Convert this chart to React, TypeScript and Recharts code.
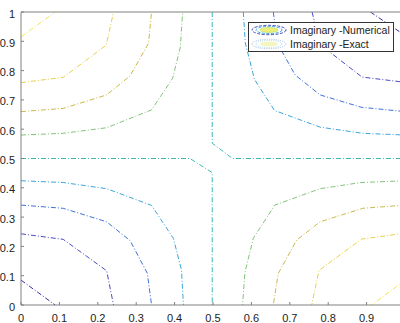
import React from "react";
import { ComposedChart, Line, XAxis, YAxis, Legend } from "recharts";

type P = { x: number; y: number };
const pts = (a: number[][]): P[] => a.map(([x, y]) => ({ x, y }));

// tick labels
const xTicks = [0, 0.1, 0.2, 0.3, 0.4, 0.5, 0.6, 0.7, 0.8, 0.9, 1];
const yTicks = [0, 0.1, 0.2, 0.3, 0.4, 0.5, 0.6, 0.7, 0.8, 0.9, 1];

// contour levels (low -> high)
const levelColors = ["#3e2c9c", "#4b4cc4", "#3f72d6", "#3aa6dc", "#3cb9b2", "#84c47c", "#cdb84a", "#ead04a", "#f2e64a"];

// upper-left quadrant (high values)
const cA_UL = pts([[0, 0.915], [0.089, 1]]);
const cB_UL = pts([[0, 0.759], [0.11, 0.777], [0.222, 0.887], [0.241, 1]]);
const cC_UL = pts([[0, 0.66], [0.11, 0.671], [0.223, 0.717], [0.284, 0.782], [0.332, 0.893], [0.34, 1]]);
const cD_UL = pts([[0, 0.58], [0.11, 0.586], [0.223, 0.605], [0.34, 0.666], [0.395, 0.774], [0.415, 0.88], [0.421, 1]]);
// upper-right quadrant (low values)
const cE_UR = pts([[0.579, 1], [0.584, 0.895], [0.608, 0.77], [0.66, 0.664], [0.779, 0.607], [0.89, 0.586], [1, 0.58]]);
const cF_UR = pts([[0.657, 1], [0.668, 0.893], [0.714, 0.785], [0.779, 0.717], [0.886, 0.675], [1, 0.66]]);
const cG_UR = pts([[0.758, 1], [0.779, 0.889], [0.888, 0.778], [1, 0.76]]);
const cH_UR = pts([[0.91, 1], [1, 0.92]]);
// lower-left quadrant (low values)
const cH_LL = pts([[0, 0.085], [0.089, 0]]);
const cG_LL = pts([[0, 0.243], [0.11, 0.224], [0.223, 0.117], [0.241, 0]]);
const cF_LL = pts([[0, 0.341], [0.11, 0.33], [0.223, 0.284], [0.284, 0.22], [0.329, 0.108], [0.34, 0]]);
const cE_LL = pts([[0, 0.424], [0.11, 0.418], [0.223, 0.397], [0.34, 0.34], [0.397, 0.227], [0.418, 0.119], [0.423, 0]]);
// lower-right quadrant (high values)
const cD_LR = pts([[1, 0.424], [0.885, 0.418], [0.779, 0.397], [0.661, 0.341], [0.605, 0.228], [0.583, 0.11], [0.577, 0]]);
const cC_LR = pts([[1, 0.341], [0.89, 0.33], [0.779, 0.284], [0.718, 0.222], [0.67, 0.108], [0.657, 0]]);
const cB_LR = pts([[1, 0.245], [0.887, 0.225], [0.776, 0.118], [0.757, 0]]);
const cA_LR = pts([[1, 0.085], [0.913, 0]]);
// zero level
const cZ_1 = pts([[0.498, 1], [0.498, 0.552], [0.551, 0.5], [1, 0.5]]);
const cZ_2 = pts([[0, 0.5], [0.44, 0.5], [0.498, 0.452], [0.498, 0]]);

const contours: { data: P[]; level: number }[] = [
  { data: cH_LL, level: 0 }, { data: cH_UR, level: 0 },
  { data: cG_LL, level: 1 }, { data: cG_UR, level: 1 },
  { data: cF_LL, level: 2 }, { data: cF_UR, level: 2 },
  { data: cE_LL, level: 3 }, { data: cE_UR, level: 3 },
  { data: cZ_1, level: 4 }, { data: cZ_2, level: 4 },
  { data: cD_UL, level: 5 }, { data: cD_LR, level: 5 },
  { data: cC_UL, level: 6 }, { data: cC_LR, level: 6 },
  { data: cB_UL, level: 7 }, { data: cB_LR, level: 7 },
  { data: cA_UL, level: 8 }, { data: cA_LR, level: 8 },
];

const legendLabels = ["Imaginary -Numerical", "Imaginary -Exact"];

const FONT = "'Liberation Sans', Arial, Helvetica, sans-serif";
const AX = "#808080";

// layout
const W = 410;
const H = 323;
const M = { top: 11, right: 5, bottom: 17, left: 20 };
const AXIS_THICK = 1;
const PLOT_LEFT = M.left + AXIS_THICK;
const PLOT_TOP = M.top + AXIS_THICK;
const PLOT_BOTTOM = H - M.bottom - AXIS_THICK;

const BottomTick = (props: any) => {
  const { x, payload } = props;
  const y = PLOT_BOTTOM;
  return (
    <g>
      <line x1={x} y1={y} x2={x} y2={y - 3} stroke={AX} />
      {payload.value < 1 && (
        <text x={x} y={y + 17} textAnchor="middle" fontSize={11} fontFamily={FONT} fill="#222">
          {String(payload.value)}
        </text>
      )}
    </g>
  );
};
const TopTick = (props: any) => {
  const { x } = props;
  const y = PLOT_TOP;
  return <line x1={x} y1={y} x2={x} y2={y + 3} stroke={AX} />;
};
const LeftTick = (props: any) => {
  const { y, payload } = props;
  const x = PLOT_LEFT;
  return (
    <g>
      <line x1={x} y1={y} x2={x + 3} y2={y} stroke={AX} />
      <text x={x - 6} y={y + 5.5} textAnchor="end" fontSize={11} fontFamily={FONT} fill="#222">
        {String(payload.value)}
      </text>
    </g>
  );
};

const LegendBox = () => (
  <svg width={147} height={30} style={{ display: "block" }}>
    <rect x={0.5} y={0.5} width={145} height={29} fill="#fff" stroke="#333" />
    <g>
      <ellipse cx={21} cy={8} rx={17} ry={4.7} fill="none" stroke="#4b4cc4" strokeDasharray="3 1.5" />
      <ellipse cx={21} cy={8} rx={13} ry={3.6} fill="none" stroke="#3aa6dc" strokeDasharray="3 1.5" />
      <ellipse cx={21} cy={8} rx={9} ry={2.4} fill="#eef07a" stroke="#c8dc70" strokeWidth={0.8} />
      <text x={42} y={12} fontSize={10.5} fontFamily={FONT} fill="#222">{legendLabels[0]}</text>
    </g>
    <g>
      <ellipse cx={21} cy={22} rx={17} ry={4.7} fill="none" stroke="#a4bce4" strokeDasharray="1 1.2" />
      <ellipse cx={21} cy={22} rx={13} ry={3.6} fill="none" stroke="#b0dcea" strokeDasharray="1 1.2" />
      <ellipse cx={21} cy={22} rx={9} ry={2.4} fill="#f4f6c0" stroke="none" />
      <text x={42} y={26} fontSize={10.5} fontFamily={FONT} fill="#222">{legendLabels[1]}</text>
    </g>
  </svg>
);

export default function App() {
  return (
    <div style={{ position: "relative", width: 400, height: 323, overflow: "hidden", background: "#fff" }}>
      <style>{`html,body{margin:0;padding:0;overflow:hidden;}`}</style>
      <ComposedChart width={W} height={H} margin={M}>
        <XAxis
          xAxisId="b"
          type="number"
          dataKey="x"
          domain={[0, 1]}
          ticks={xTicks}
          height={AXIS_THICK}
          tickSize={0}
          tickMargin={0}
          tickLine={false}
          axisLine={{ stroke: AX }}
          tick={<BottomTick />}
          interval={0}
          allowDataOverflow
        />
        <XAxis
          xAxisId="t"
          orientation="top"
          type="number"
          dataKey="x"
          domain={[0, 1]}
          ticks={xTicks}
          height={AXIS_THICK}
          tickSize={0}
          tickMargin={0}
          tickLine={false}
          axisLine={{ stroke: AX }}
          tick={<TopTick />}
          interval={0}
        />
        <YAxis
          yAxisId="l"
          type="number"
          domain={[0, 1]}
          ticks={yTicks}
          width={AXIS_THICK}
          tickSize={0}
          tickMargin={0}
          tickLine={false}
          axisLine={{ stroke: AX }}
          tick={<LeftTick />}
          interval={0}
          allowDataOverflow
        />
        {contours.map((c, i) => (
          <Line
            key={i}
            xAxisId="b"
            yAxisId="l"
            data={c.data}
            dataKey="y"
            type="linear"
            stroke={levelColors[c.level]}
            strokeWidth={1}
            strokeDasharray="5 2 1 2"
            dot={false}
            activeDot={false}
            legendType="none"
            isAnimationActive={false}
          />
        ))}
        <Legend
          layout="horizontal"
          verticalAlign="middle"
          align="center"
          content={() => <LegendBox />}
          wrapperStyle={{ position: "absolute", left: 248, top: 22, width: 147, height: 30, margin: 0 }}
        />
      </ComposedChart>
    </div>
  );
}
